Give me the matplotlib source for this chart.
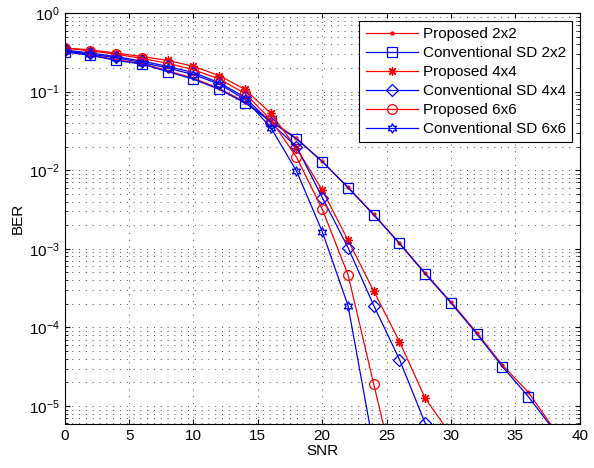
import numpy as np
import matplotlib
matplotlib.use("Agg")
import matplotlib.pyplot as plt

plt.rcParams['font.family'] = ['Liberation Sans', 'DejaVu Sans']

# SNR points (dB)
snr_2x2 = [0, 2, 4, 6, 8, 10, 12, 14, 16, 18, 20, 22, 24, 26, 28, 30, 32, 34, 36, 38]
snr_4x4 = [0, 2, 4, 6, 8, 10, 12, 14, 16, 18, 20, 22, 24, 26, 28, 30]
snr_6x6_prop = [0, 2, 4, 6, 8, 10, 12, 14, 16, 18, 20, 22, 24, 26]
snr_6x6_conv = [0, 2, 4, 6, 8, 10, 12, 14, 16, 18, 20, 22, 24]

# BER values
ber_prop_2x2 = [0.33, 0.295, 0.255, 0.228, 0.185, 0.148, 0.11, 0.074, 0.043, 0.0255,
                0.013, 6.1e-3, 2.75e-3, 1.18e-3, 4.9e-4, 2.1e-4, 8.6e-5, 3.3e-5, 1.5e-5, 5.1e-6]
ber_conv_2x2 = [0.32, 0.29, 0.25, 0.224, 0.18, 0.144, 0.107, 0.072, 0.042, 0.025,
                0.0129, 6.0e-3, 2.7e-3, 1.17e-3, 4.8e-4, 2.05e-4, 8.3e-5, 3.16e-5, 1.32e-5, 4.9e-6]
ber_prop_4x4 = [0.36, 0.34, 0.31, 0.28, 0.25, 0.21, 0.16, 0.107, 0.053, 0.0192,
                5.6e-3, 1.29e-3, 2.9e-4, 6.6e-5, 1.25e-5, 4.3e-6]
ber_conv_4x4 = [0.34, 0.31, 0.28, 0.245, 0.21, 0.175, 0.13, 0.085, 0.04, 0.02,
                4.5e-3, 1.04e-3, 1.9e-4, 3.9e-5, 6e-6, 1e-6]
ber_prop_6x6 = [0.36, 0.33, 0.30, 0.265, 0.23, 0.19, 0.145, 0.095, 0.044, 0.0147,
                3.2e-3, 4.7e-4, 1.9e-5, 8e-7]
ber_conv_6x6 = [0.33, 0.30, 0.27, 0.235, 0.2, 0.165, 0.125, 0.08, 0.035, 9.8e-3,
                1.66e-3, 1.9e-4, 3e-6]

labels = ['Proposed 2x2', 'Conventional SD 2x2', 'Proposed 4x4',
          'Conventional SD 4x4', 'Proposed 6x6', 'Conventional SD 6x6']

fig = plt.figure(figsize=(5.94, 4.68), dpi=100)
ax = fig.add_axes([0.109, 0.094, 0.867, 0.878])

ax.semilogy(snr_2x2, ber_prop_2x2, color='red', marker='.', markersize=4, lw=0.9, label=labels[0])
ax.semilogy(snr_2x2, ber_conv_2x2, color='blue', marker='s', markersize=7, mfc='none', mew=0.9, lw=0.9, label=labels[1])
ax.semilogy(snr_4x4, ber_prop_4x4, color='red', marker=(8, 2, 0), markersize=6.5, mew=0.9, lw=0.9, label=labels[2])
ax.semilogy(snr_4x4, ber_conv_4x4, color='blue', marker='D', markersize=6, mfc='none', mew=0.9, lw=0.9, label=labels[3])
ax.semilogy(snr_6x6_prop, ber_prop_6x6, color='red', marker='o', markersize=7, mfc='none', mew=0.9, lw=0.9, label=labels[4])
ax.semilogy(snr_6x6_conv, ber_conv_6x6, color='blue', marker=(6, 1, 0), markersize=7, mfc='none', mew=0.9, lw=0.9, label=labels[5])

ax.set_xlim(0, 40)
ax.set_ylim(5.9e-6, 1)
ax.set_xticks(np.arange(0, 41, 5))
ax.set_xlabel('SNR', fontsize=11, labelpad=1)
ax.set_ylabel('BER', fontsize=11, labelpad=3)

grid_style = dict(linestyle=(0, (1, 6)), color='0.3', lw=0.7)
ax.grid(True, which='major', axis='x', **grid_style)
ax.grid(True, which='both', axis='y', **grid_style)
ax.tick_params(which='both', direction='in', top=True, right=True, labelsize=11)
ax.tick_params(axis='x', which='minor', bottom=False, top=False)
for s in ax.spines.values():
    s.set_linewidth(0.8)

leg = ax.legend(loc='upper right', fontsize=11, fancybox=False, framealpha=1,
                edgecolor='black', borderaxespad=0.5, handlelength=3.4,
                handletextpad=0.35, labelspacing=0.33, borderpad=0.4)
leg.get_frame().set_linewidth(0.8)

fig.savefig('out.png', dpi=100)
